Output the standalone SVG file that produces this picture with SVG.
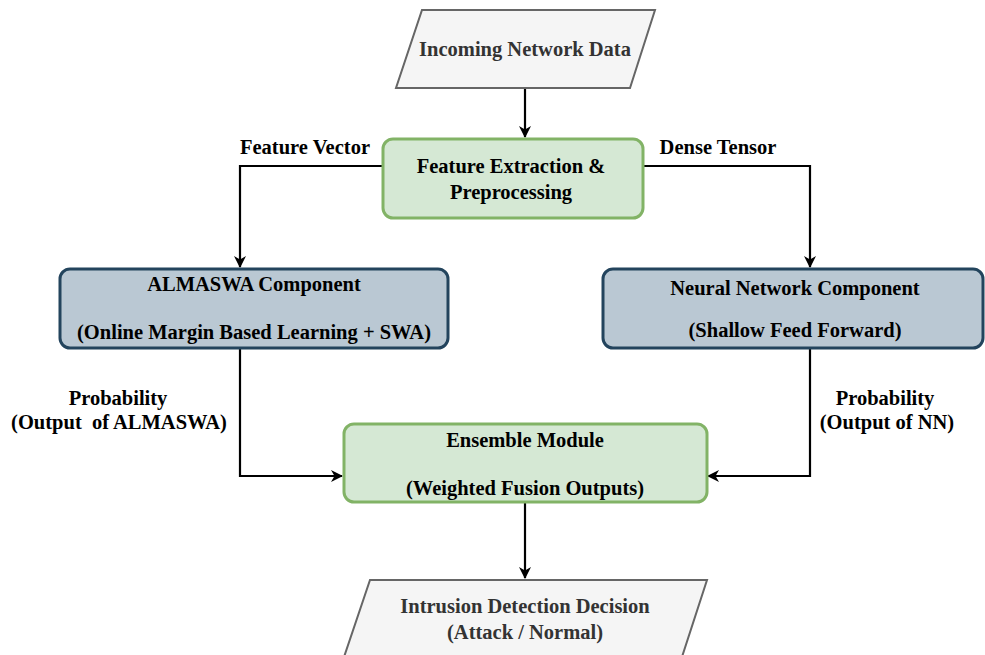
<svg xmlns="http://www.w3.org/2000/svg" width="985" height="655" viewBox="0 0 985 655">
<defs>
<style>
text{font-family:"Liberation Serif","Times New Roman",serif;font-weight:bold;font-size:20.5px;text-anchor:middle;dominant-baseline:central;fill:#000;white-space:pre}
.io{fill:#f5f5f5;stroke:#666;stroke-width:2}
.io-t{fill:#333}
.green{fill:#d5e8d4;stroke:#82b366;stroke-width:3}
.blue{fill:#bac8d3;stroke:#23445d;stroke-width:3}
.edge{fill:none;stroke:#000;stroke-width:2.2}
</style>
<marker id="arr" viewBox="0 0 12 12" refX="11" refY="6" markerWidth="12" markerHeight="12" markerUnits="userSpaceOnUse" orient="auto">
<path d="M0,0 L12,6 L0,12 L3.5,6 Z" fill="#000"/>
</marker>
</defs>
<rect width="985" height="655" fill="#fff"/>
<g id="connectors">
<path class="edge" d="M525,88 L525,137" marker-end="url(#arr)"/>
<path class="edge" d="M383,166 L240,166 L240,267" marker-end="url(#arr)"/>
<path class="edge" d="M643,166 L810,166 L810,267" marker-end="url(#arr)"/>
<path class="edge" d="M240,348 L240,476 L342,476" marker-end="url(#arr)"/>
<path class="edge" d="M810,348 L810,476 L708,476" marker-end="url(#arr)"/>
<path class="edge" d="M525,503 L525,578" marker-end="url(#arr)"/>
<text x="305" y="147">Feature Vector</text>
<text x="718" y="147">Dense Tensor</text>
<text x="118" y="398">Probability</text>
<text x="119" y="422">(Output  of ALMASWA)</text>
<text x="885" y="398">Probability</text>
<text x="887" y="422">(Output of NN)</text>
</g>
<g id="input">
<path class="io" d="M422,10 L655,10 L630,88 L396,88 Z"/>
<text class="io-t" x="525" y="49">Incoming Network Data</text>
</g>
<g id="feature">
<rect class="green" x="383" y="139" width="260" height="79" rx="10"/>
<text x="511" y="166">Feature Extraction &amp;</text>
<text x="511" y="192">Preprocessing</text>
</g>
<g id="almaswa">
<rect class="blue" x="60" y="269" width="388" height="79" rx="10"/>
<text x="254" y="284">ALMASWA Component</text>
<text x="254" y="332">(Online Margin Based Learning + SWA)</text>
</g>
<g id="nn">
<rect class="blue" x="603" y="269" width="380" height="79" rx="10"/>
<text x="795" y="288">Neural Network Component</text>
<text x="795" y="330">(Shallow Feed Forward)</text>
</g>
<g id="ensemble">
<rect class="green" x="344" y="424" width="363" height="78" rx="10"/>
<text x="525" y="440">Ensemble Module</text>
<text x="525" y="488">(Weighted Fusion Outputs)</text>
</g>
<g id="output">
<path class="io" d="M370,580 L707,580 L681,660 L343,660 Z"/>
<text class="io-t" x="525" y="606">Intrusion Detection Decision</text>
<text class="io-t" x="525" y="632">(Attack / Normal)</text>
</g>
</svg>
